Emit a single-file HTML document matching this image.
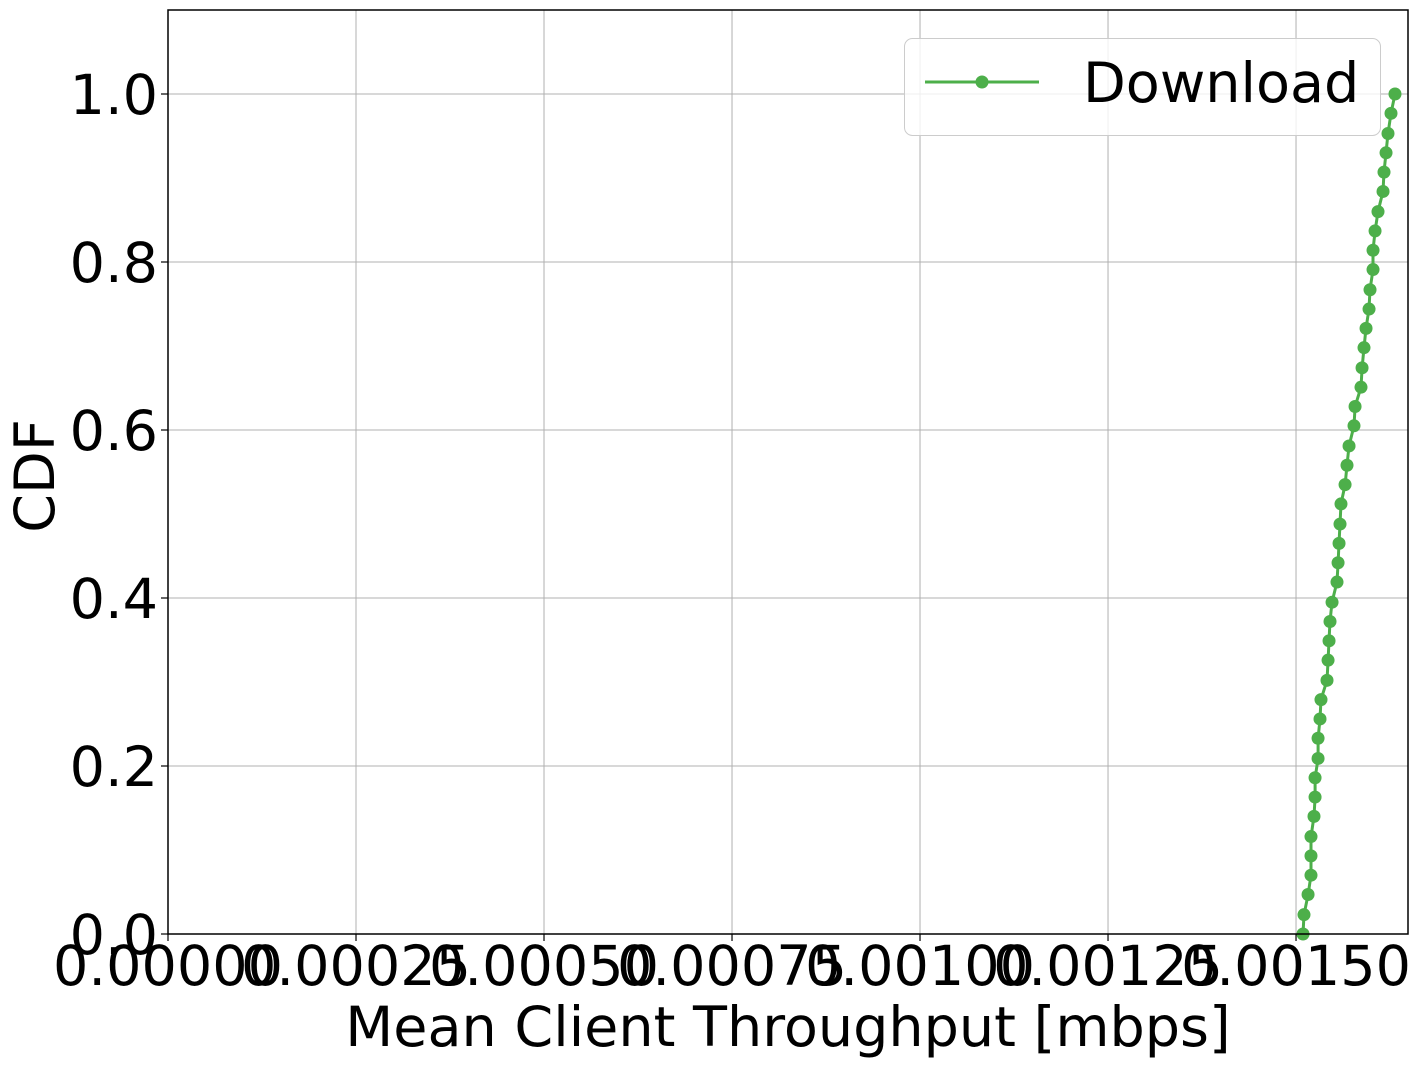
<!DOCTYPE html>
<html><head><meta charset="utf-8"><style>
html,body{margin:0;padding:0;background:#fff;}
svg{display:block;font-family:"DejaVu Sans","Liberation Sans",sans-serif;}
</style></head><body>
<svg id="chart" width="1420" height="1067" viewBox="0 0 1420 1067" xmlns="http://www.w3.org/2000/svg">
<g id="grid"></g>
<g id="series"></g>
<rect x="168" y="10" width="1240" height="924" fill="none" stroke="#000" stroke-width="1.5"/>
<g id="ticks"></g>
<text x="788" y="1046" font-size="55.6" text-anchor="middle">Mean Client Throughput [mbps]</text>
<text x="54" y="476" font-size="55.6" text-anchor="middle" transform="rotate(-90 54 476)">CDF</text>
<g>
<rect x="904.5" y="38.5" width="476" height="97" rx="8" fill="#fff" fill-opacity="0.8" stroke="#ccc" stroke-width="1"/>
<line x1="925" y1="82" x2="1039" y2="82" stroke="#4daf4a" stroke-width="3"/>
<circle cx="982" cy="82" r="6.5" fill="#4daf4a"/>
<text x="1083" y="102" font-size="55.6">Download</text>
</g>
</svg>
<script>
const xTicks = [0, 0.00025, 0.0005, 0.00075, 0.001, 0.00125, 0.0015];
const xTickLabels = ["0.00000","0.00025","0.00050","0.00075","0.00100","0.00125","0.00150"];
const yTicks = [0, 0.2, 0.4, 0.6, 0.8, 1.0];
const yTickLabels = ["0.0","0.2","0.4","0.6","0.8","1.0"];
const downloadX = [0.0015093,0.0015106,0.0015160,0.0015199,0.0015199,0.0015199,0.0015239,0.0015253,0.0015253,0.0015293,0.0015293,0.0015319,0.0015332,0.0015412,0.0015426,0.0015439,0.0015452,0.0015479,0.0015545,0.0015559,0.0015572,0.0015585,0.0015598,0.0015652,0.0015678,0.0015705,0.0015771,0.0015785,0.0015864,0.0015878,0.0015904,0.0015931,0.0015971,0.0015984,0.0016024,0.0016024,0.0016051,0.0016090,0.0016157,0.0016170,0.0016197,0.0016223,0.0016263,0.0016316];
const downloadY = [0,0.023,0.047,0.070,0.093,0.116,0.140,0.163,0.186,0.209,0.233,0.256,0.279,0.302,0.326,0.349,0.372,0.395,0.419,0.442,0.465,0.488,0.512,0.535,0.558,0.581,0.605,0.628,0.651,0.674,0.698,0.721,0.744,0.767,0.791,0.814,0.837,0.860,0.884,0.907,0.930,0.953,0.977,1.0];

const X0=168, X1=1408, Y0=934, Y1=10;
const xMin=0, xMax=0.0016489, yMin=0, yMax=1.1;
const sx = v => X0 + (v-xMin)/(xMax-xMin)*(X1-X0);
const sy = v => Y0 - (v-yMin)/(yMax-yMin)*(Y0-Y1);
const NS="http://www.w3.org/2000/svg";
function mk(tag, attrs, parent){const e=document.createElementNS(NS,tag);for(const k in attrs)e.setAttribute(k,attrs[k]);parent.appendChild(e);return e;}
const grid=document.getElementById('grid'), ticks=document.getElementById('ticks'), series=document.getElementById('series');
xTicks.forEach((t,i)=>{
  const x=sx(t);
  const g=mk('line',{x1:x,y1:Y1,x2:x,y2:Y0,stroke:'#b0b0b0','stroke-width':1},grid);
  
  
  const tk=mk('line',{x1:x,y1:Y0,x2:x,y2:Y0+7,stroke:'#000','stroke-width':1.2},ticks);
  
  
  const tx=mk('text',{x:x,y:985,'font-size':55.6,'text-anchor':'middle'},ticks);
  tx.textContent=xTickLabels[i];
  
  
});
yTicks.forEach((t,i)=>{
  const y=sy(t);
  const g=mk('line',{x1:X0,y1:y,x2:X1,y2:y,stroke:'#b0b0b0','stroke-width':1},grid);
  
  
  const tk=mk('line',{x1:X0-7,y1:y,x2:X0,y2:y,stroke:'#000','stroke-width':1.2},ticks);
  
  
  const tx=mk('text',{x:158,y:y+20,'font-size':55.6,'text-anchor':'end'},ticks);
  tx.textContent=yTickLabels[i];
  
  
});
const pts=downloadX.map((v,i)=>sx(v).toFixed(1)+','+sy(downloadY[i]).toFixed(1)).join(' ');
const pl=mk('polyline',{points:pts,fill:'none',stroke:'#4daf4a','stroke-width':3,'stroke-linejoin':'round'},series);


downloadX.forEach((v,i)=>{
  const c=mk('circle',{cx:sx(v),cy:sy(downloadY[i]),r:6.5,fill:'#4daf4a'},series);
  
  
});
</script>
</body></html>
